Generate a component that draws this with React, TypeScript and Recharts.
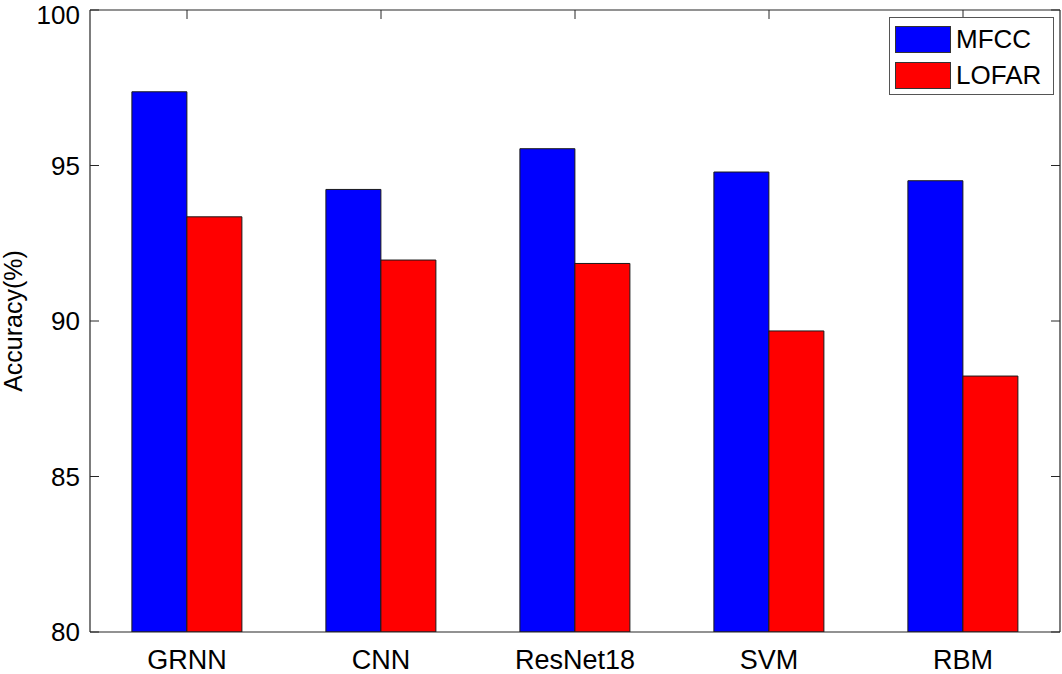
import React from 'react';
import { BarChart, Bar, XAxis, YAxis } from 'recharts';

const categories = ['GRNN', 'CNN', 'ResNet18', 'SVM', 'RBM'];
const mfccValues = [97.37, 94.23, 95.54, 94.79, 94.51];
const lofarValues = [93.35, 91.96, 91.85, 89.68, 88.23];
const yTicks = [80, 85, 90, 95, 100];
const seriesNames = ['MFCC', 'LOFAR'];
const seriesColors = ['#0000FF', '#FF0000'];

const data = categories.map((name, i) => ({ name, MFCC: mfccValues[i], LOFAR: lofarValues[i] }));

const FONT = "Arial, 'Liberation Sans', sans-serif";
const AXIS = '#262626';
const empty = () => <g />;

const LegendBox = () => (
  <div
    style={{
      position: 'absolute',
      left: 889,
      top: 17,
      width: 163,
      height: 76,
      border: '1px solid #555',
      background: '#fff',
      fontFamily: FONT,
    }}
  >
    {seriesNames.map((name, i) => (
      <div
        key={name}
        style={{
          position: 'absolute',
          left: 5,
          top: 7 + i * 36,
          display: 'flex',
          alignItems: 'center',
          height: 28,
        }}
      >
        <div
          style={{
            width: 54,
            height: 25,
            background: seriesColors[i],
            border: '1px solid #333',
          }}
        />
        <span style={{ marginLeft: 5, fontSize: 26, color: '#000', lineHeight: '28px' }}>{name}</span>
      </div>
    ))}
  </div>
);

const yLabel = (props: any) => {
  const vb = props.viewBox || { x: 0, y: 10, width: 90, height: 622 };
  const cx = 22;
  const cy = vb.y + vb.height / 2;
  return (
    <text
      x={cx}
      y={cy}
      transform={`rotate(-90 ${cx} ${cy})`}
      textAnchor="middle"
      fontSize={25}
      fontFamily={FONT}
      fill="#000"
    >
      Accuracy(%)
    </text>
  );
};

export default function App() {
  return (
    <div style={{ position: 'absolute', left: 0, top: 0, width: 1062, height: 674, background: '#fff' }}>
      <BarChart
        width={1062}
        height={674}
        data={data}
        margin={{ top: 10, right: 2, bottom: 0, left: 0 }}
        barCategoryGap="21.6%"
        barGap={0}
      >
        <XAxis
          xAxisId="x"
          dataKey="name"
          height={42}
          interval={0}
          tickLine={false}
          tickSize={0}
          tickMargin={18}
          axisLine={{ stroke: AXIS, strokeWidth: 1.2 }}
          tick={{ fill: '#000', fontSize: 27, fontFamily: FONT }}
        />
        <XAxis
          xAxisId="xt"
          dataKey="name"
          orientation="top"
          mirror
          interval={0}
          tickSize={9}
          tickLine={{ stroke: AXIS }}
          axisLine={{ stroke: AXIS, strokeWidth: 1.2 }}
          tick={empty}
        />
        <YAxis
          yAxisId="y"
          width={90}
          domain={[80, 100]}
          ticks={yTicks}
          allowDataOverflow
          tickLine={false}
          tickSize={0}
          tickMargin={10}
          axisLine={{ stroke: AXIS, strokeWidth: 1.2 }}
          tick={{ fill: '#000', fontSize: 26, fontFamily: FONT }}
          label={yLabel}
        />
        <YAxis
          yAxisId="yin"
          mirror
          domain={[80, 100]}
          ticks={yTicks}
          allowDataOverflow
          tickSize={9}
          tickLine={{ stroke: AXIS }}
          axisLine={false}
          tick={empty}
        />
        <YAxis
          yAxisId="yr"
          orientation="right"
          mirror
          domain={[80, 100]}
          ticks={yTicks}
          allowDataOverflow
          tickSize={9}
          tickLine={{ stroke: AXIS }}
          axisLine={{ stroke: AXIS, strokeWidth: 1.2 }}
          tick={empty}
        />
        <Bar
          xAxisId="x"
          yAxisId="y"
          dataKey="MFCC"
          fill={seriesColors[0]}
          stroke="#1a1a1a"
          strokeWidth={1}
          isAnimationActive={false}
        />
        <Bar
          xAxisId="x"
          yAxisId="y"
          dataKey="LOFAR"
          fill={seriesColors[1]}
          stroke="#1a1a1a"
          strokeWidth={1}
          isAnimationActive={false}
        />
      </BarChart>
      <LegendBox />
    </div>
  );
}
